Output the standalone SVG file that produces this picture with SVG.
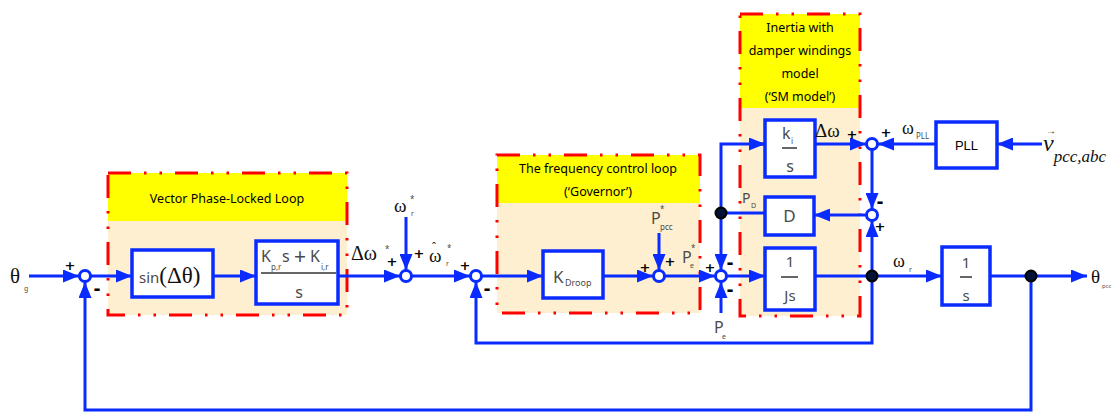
<svg xmlns="http://www.w3.org/2000/svg" width="1114" height="414" viewBox="0 0 1114 414">
<style>
.ln{fill:none;stroke:#0A2BFF;stroke-width:3}
.blk{fill:#fff;stroke:#0A2BFF;stroke-width:3.5}
.sum{fill:#fff;stroke:#0A2BFF;stroke-width:3}
.dot{fill:#021236;stroke:#000;stroke-width:2}
.frame{fill:none;stroke:#FF0000;stroke-width:3;stroke-dasharray:23 13 2.5 13 2.5 13}
.yel{fill:#FFFF00}
.bei{fill:#FDEFCF}
.hd{font-family:"Noto Sans","DejaVu Sans",sans-serif;font-size:12.5px;fill:#000;text-anchor:middle}
.g{font-family:"Noto Sans","DejaVu Sans",sans-serif;fill:#4a4a4a}
.gr{font-family:"Liberation Serif","DejaVu Serif",serif;fill:#111}
.sg{font-family:"DejaVu Sans",sans-serif;font-weight:bold;font-size:13px;fill:#000;text-anchor:middle}
.mn{font-family:"DejaVu Sans",sans-serif;font-weight:bold;font-size:17px;fill:#000;text-anchor:middle}
.fl{stroke:#333;stroke-width:1.5}
</style>
<defs>
<marker id="ar" markerUnits="userSpaceOnUse" markerWidth="17" markerHeight="13" refX="16" refY="6.5" orient="auto">
<path d="M0,0 L16,6.5 L0,13 z" fill="#0A2BFF"/>
</marker>
</defs>

<g id="frame-pll">
<rect class="bei" x="108" y="173" width="239" height="142"/>
<rect class="yel" x="108" y="173" width="239" height="48"/>
<rect class="frame" x="108" y="173" width="239" height="142"/>
<text class="hd" x="227" y="203">Vector Phase-Locked Loop</text>
</g>
<g id="frame-gov">
<rect class="bei" x="497" y="155" width="203" height="158"/>
<rect class="yel" x="497" y="155" width="203" height="48"/>
<rect class="frame" x="497" y="155" width="203" height="158"/>
<text class="hd" x="598" y="173">The frequency control loop</text>
<text class="hd" x="598" y="196">(‘Governor’)</text>
</g>
<g id="frame-sm">
<rect class="bei" x="740" y="14" width="120" height="302"/>
<rect class="yel" x="740" y="14" width="120" height="94"/>
<rect class="frame" x="740" y="14" width="120" height="302"/>
<text class="hd" x="800" y="32">Inertia with</text>
<text class="hd" x="800" y="55">damper windings</text>
<text class="hd" x="800" y="78">model</text>
<text class="hd" x="800" y="101">(‘SM model’)</text>
</g>

<g id="connectors">
<line class="ln" x1="29" y1="276" x2="79" y2="276" marker-end="url(#ar)"/>
<line class="ln" x1="91" y1="276" x2="132" y2="276" marker-end="url(#ar)"/>
<line class="ln" x1="213" y1="276" x2="256" y2="276" marker-end="url(#ar)"/>
<line class="ln" x1="338" y1="276" x2="400" y2="276" marker-end="url(#ar)"/>
<line class="ln" x1="406" y1="217" x2="406" y2="270" marker-end="url(#ar)"/>
<line class="ln" x1="412" y1="276" x2="470" y2="276" marker-end="url(#ar)"/>
<line class="ln" x1="482" y1="276" x2="543" y2="276" marker-end="url(#ar)"/>
<line class="ln" x1="603" y1="276" x2="653" y2="276" marker-end="url(#ar)"/>
<line class="ln" x1="659" y1="233" x2="659" y2="270" marker-end="url(#ar)"/>
<line class="ln" x1="665" y1="276" x2="715" y2="276" marker-end="url(#ar)"/>
<line class="ln" x1="721" y1="313" x2="721" y2="282" marker-end="url(#ar)"/>
<line class="ln" x1="727" y1="276" x2="765" y2="276" marker-end="url(#ar)"/>
<line class="ln" x1="815" y1="276" x2="872" y2="276"/>
<line class="ln" x1="872" y1="276" x2="942" y2="276" marker-end="url(#ar)"/>
<line class="ln" x1="990" y1="276" x2="1087" y2="276" marker-end="url(#ar)"/>
<polyline class="ln" points="1031,276 1031,410 85,410 85,282" marker-end="url(#ar)"/>
<polyline class="ln" points="872,276 872,343 476,343 476,282" marker-end="url(#ar)"/>
<line class="ln" x1="872" y1="276" x2="872" y2="221" marker-end="url(#ar)"/>
<line class="ln" x1="866" y1="215" x2="814" y2="215" marker-end="url(#ar)"/>
<line class="ln" x1="765" y1="213" x2="721" y2="213"/>
<polyline class="ln" points="765,144 721,144 721,270" marker-end="url(#ar)"/>
<line class="ln" x1="815" y1="144" x2="866" y2="144" marker-end="url(#ar)"/>
<line class="ln" x1="936" y1="144" x2="878" y2="144" marker-end="url(#ar)"/>
<line class="ln" x1="1042" y1="144" x2="997" y2="144" marker-end="url(#ar)"/>
<line class="ln" x1="872" y1="150" x2="872" y2="209" marker-end="url(#ar)"/>
<line class="ln" x1="750" y1="144" x2="765" y2="144" marker-end="url(#ar)"/>
</g>

<g id="sum1"><circle class="sum" cx="85" cy="276" r="5.5"/>
<text class="sg" x="70" y="270">+</text><text class="mn" x="97" y="295">-</text></g>
<g id="sum2"><circle class="sum" cx="406" cy="276" r="5.5"/>
<text class="sg" x="392" y="266">+</text><text class="sg" x="419" y="258">+</text></g>
<g id="sum3"><circle class="sum" cx="476" cy="276" r="5.5"/>
<text class="sg" x="465" y="270">+</text><text class="mn" x="487" y="295">-</text></g>
<g id="sum4"><circle class="sum" cx="659" cy="276" r="5.5"/>
<text class="sg" x="645" y="272">+</text><text class="sg" x="670" y="266">+</text></g>
<g id="sum5"><circle class="sum" cx="721" cy="276" r="5.5"/>
<text class="sg" x="710" y="272">+</text><text class="mn" x="730" y="269">-</text><text class="mn" x="730" y="296">-</text></g>
<g id="sum6"><circle class="sum" cx="872" cy="144" r="5.5"/>
<text class="sg" x="852" y="139">+</text><text class="sg" x="886" y="137">+</text></g>
<g id="sum7"><circle class="sum" cx="872" cy="215" r="5.5"/>
<text class="mn" x="880" y="208">-</text><text class="sg" x="880" y="231">+</text></g>

<g id="dot1"><circle class="dot" cx="721" cy="213" r="5.5"/></g>
<g id="dot2"><circle class="dot" cx="872" cy="276" r="5.5"/></g>
<g id="dot3"><circle class="dot" cx="1031" cy="276" r="5.5"/></g>

<g id="sin">
<rect class="blk" x="132" y="250" width="81" height="47"/>
<text x="139" y="283"><tspan class="g" font-size="15">sin</tspan><tspan class="gr" font-size="23">(Δθ)</tspan></text>
</g>
<g id="pi">
<rect class="blk" x="256" y="241" width="82" height="63"/>
<text class="g" font-size="16" x="261" y="262">K</text>
<text class="g" font-size="8" x="271" y="270">p,r</text>
<text class="g" font-size="16" x="282" y="262">s</text>
<text class="g" font-size="21" x="294" y="264" fill="#222">+</text>
<text class="g" font-size="16" x="310" y="262">K</text>
<text class="g" font-size="8" x="321" y="270">i,r</text>
<line class="fl" x1="261" y1="273" x2="336" y2="273"/>
<text class="g" font-size="16" x="299" y="298" text-anchor="middle">s</text>
</g>
<g id="kdroop">
<rect class="blk" x="543" y="251" width="60" height="47"/>
<text class="g" font-size="17" x="553" y="283">K</text>
<text class="g" font-size="9" x="565" y="286">Droop</text>
</g>
<g id="kis">
<rect class="blk" x="765" y="120" width="50" height="57"/>
<text class="g" font-size="16" x="782" y="139">k</text>
<text class="g" font-size="8" x="791" y="144">i</text>
<line class="fl" x1="782" y1="148" x2="797" y2="148"/>
<text class="g" font-size="16" x="790" y="172" text-anchor="middle">s</text>
</g>
<g id="dblk">
<rect class="blk" x="765" y="197" width="49" height="38"/>
<text class="g" font-size="17" x="789.5" y="222" text-anchor="middle">D</text>
</g>
<g id="js">
<rect class="blk" x="765" y="248" width="50" height="62"/>
<text class="g" font-size="15" x="790" y="267" text-anchor="middle">1</text>
<line class="fl" x1="781" y1="277" x2="798" y2="277"/>
<text class="g" font-size="15" x="790" y="301" text-anchor="middle">Js</text>
</g>
<g id="pll">
<rect class="blk" x="936" y="122" width="61" height="46"/>
<text x="966.5" y="150" font-family="'Liberation Sans',Arial,sans-serif" font-size="13" fill="#000" text-anchor="middle">PLL</text>
</g>
<g id="integ">
<rect class="blk" x="942" y="247" width="48" height="58"/>
<text class="g" font-size="15" x="966" y="268" text-anchor="middle">1</text>
<line class="fl" x1="960" y1="277" x2="972" y2="277"/>
<text class="g" font-size="15" x="966" y="301" text-anchor="middle">s</text>
</g>

<g id="labels">
<text class="gr" font-size="21" x="10" y="283">θ</text>
<text class="g" font-size="7" x="24" y="291">g</text>
<text class="gr" font-size="20" x="351" y="260">Δω</text>
<text class="g" font-size="8" x="385" y="252">*</text>
<text class="gr" font-size="19" x="394" y="212">ω</text>
<text class="g" font-size="8" x="410" y="202">*</text>
<text class="g" font-size="7" x="411" y="216">r</text>
<text class="gr" font-size="19" x="429" y="262">ω</text>
<text class="gr" font-size="12" x="432" y="251">ˆ</text>
<text class="g" font-size="8" x="447" y="251">*</text>
<text class="g" font-size="7" x="446" y="266">r</text>
<text class="g" font-size="16" x="651" y="224">P</text>
<text class="g" font-size="8" x="660" y="212">*</text>
<text class="g" font-size="8" x="660" y="230">pcc</text>
<text class="g" font-size="16" x="682" y="263">P</text>
<text class="g" font-size="8" x="691" y="251">*</text>
<text class="g" font-size="7" x="690" y="268">e</text>
<text class="g" font-size="16" x="714" y="333">P</text>
<text class="g" font-size="7" x="722" y="339">e</text>
<text class="g" font-size="14" x="742" y="203">P</text>
<text class="g" font-size="7" x="751" y="208">D</text>
<text class="gr" font-size="19" x="815" y="137">Δω</text>
<text class="gr" font-size="18" x="902" y="134">ω</text>
<text class="g" font-size="8" x="916" y="139">PLL</text>
<text class="gr" font-size="18" x="893" y="267">ω</text>
<text class="g" font-size="7" x="909" y="272">r</text>
<text class="gr" font-size="19" x="1091" y="283">θ</text>
<text class="g" font-size="6" x="1102" y="288">pcc</text>
<text class="gr" font-style="italic" x="1043" y="151"><tspan font-size="24">v</tspan><tspan font-size="17" dy="11">pcc,abc</tspan></text>
<text class="gr" font-size="10" x="1046" y="134">→</text>
</g>
</svg>
